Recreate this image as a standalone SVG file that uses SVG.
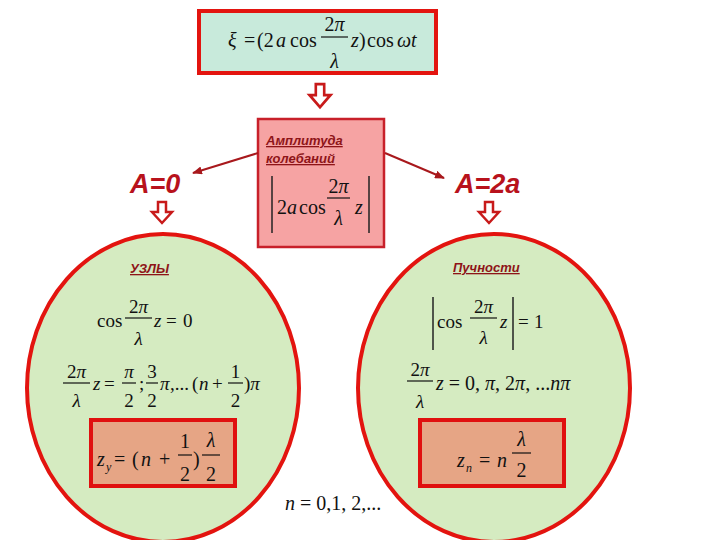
<svg xmlns="http://www.w3.org/2000/svg" width="720" height="540" viewBox="0 0 720 540">
<style>
.m{font-family:"Liberation Serif","Times New Roman",serif;font-size:20px;fill:#111}
.s{font-size:19px}
.sub{font-size:12px}
.i{font-style:italic}
.c{text-anchor:middle}
.bar{stroke:#111;stroke-width:1.2}
.abs{stroke:#222;stroke-width:1.5}
.lbl{font-family:"Liberation Sans",Arial,sans-serif;font-style:italic;font-weight:bold;font-size:13px;fill:#8e1418;text-decoration:underline}
.big{font-family:"Liberation Sans",Arial,sans-serif;font-style:italic;font-weight:bold;font-size:27px;fill:#b8121c}
.harrow{fill:#ffffff;stroke:#c81a1a;stroke-width:2.5;stroke-linejoin:miter}
.circ{fill:#d5ebc1;stroke:#e3140f;stroke-width:4}
.res{fill:#e6a585;stroke:#e0100f;stroke-width:4}
.conn{stroke:#a8181c;stroke-width:2;fill:none}
</style>
<defs>
<marker id="ah" markerWidth="10" markerHeight="8" refX="9" refY="4" orient="auto" markerUnits="userSpaceOnUse">
<path d="M0,0 L10,4 L0,8 Z" fill="#a8181c"/>
</marker>
<path id="dn" d="M-4,0 L4,0 L4,10 L10,10 L0,21 L-10,10 L-4,10 Z"/>
</defs>

<g id="node-nodes-circle">
<ellipse class="circ" cx="163" cy="388" rx="136" ry="154"/>
</g>
<g id="node-antinodes-circle">
<ellipse class="circ" cx="494" cy="388" rx="136" ry="154"/>
</g>

<g id="node-top">
<rect x="199" y="11" width="237" height="62" fill="#c8eadb" stroke="#e3140f" stroke-width="4"/>
<text class="m i" x="228" y="47">ξ</text>
<text class="m" x="244" y="47">=</text>
<text class="m" x="257" y="47">(2</text>
<text class="m i" x="276" y="47">a</text>
<text class="m" x="290" y="47">cos</text>
<line class="bar" x1="321" y1="37" x2="348" y2="37"/>
<text class="m c" x="334.5" y="31">2<tspan class="i">π</tspan></text>
<text class="m c i" x="334.5" y="68">λ</text>
<text class="m i" x="351" y="47">z</text>
<text class="m" x="359" y="47">)</text>
<text class="m" x="367" y="47">cos</text>
<text class="m i" x="397" y="47">ωt</text>
</g>

<g id="node-top-arrow">
<use href="#dn" class="harrow" transform="translate(320,84) scale(1.05,1.1)"/>
</g>

<g id="node-amplitude">
<rect x="258" y="119" width="126" height="128" fill="#f6a3a3" stroke="#c8202a" stroke-width="2.5"/>
<text class="lbl" x="266" y="145">Амплитуда</text>
<text class="lbl" x="266" y="163">колебаний</text>
<line class="abs" x1="272" y1="176" x2="272" y2="233"/>
<text class="m" x="277" y="214">2</text>
<text class="m i" x="287" y="214">a</text>
<text class="m" x="299" y="214">cos</text>
<line class="bar" x1="327" y1="198" x2="350" y2="198"/>
<text class="m c" x="338.5" y="193">2<tspan class="i">π</tspan></text>
<text class="m c i" x="338.5" y="225">λ</text>
<text class="m i" x="355" y="214">z</text>
<line class="abs" x1="369" y1="176" x2="369" y2="233"/>
</g>

<g id="connectors">
<line class="conn" x1="258" y1="153" x2="193" y2="173" marker-end="url(#ah)"/>
<line class="conn" x1="385" y1="153" x2="444" y2="178" marker-end="url(#ah)"/>
</g>

<g id="node-a0">
<text class="big" x="130" y="193">A=0</text>
<use href="#dn" class="harrow" transform="translate(162,202)"/>
</g>
<g id="node-a2a">
<text class="big" x="455" y="193">A=2a</text>
<use href="#dn" class="harrow" transform="translate(489,202)"/>
</g>

<g id="node-nodes-content">
<text class="lbl" x="130" y="273">УЗЛЫ</text>
<text class="m s" x="97" y="327">cos</text>
<line class="bar" x1="125" y1="318" x2="152" y2="318"/>
<text class="m s c" x="138.5" y="313">2<tspan class="i">π</tspan></text>
<text class="m s c i" x="138.5" y="345">λ</text>
<text class="m s i" x="154" y="327">z</text>
<text class="m s" x="166" y="327">=</text>
<text class="m s" x="183" y="327">0</text>

<line class="bar" x1="63" y1="383" x2="90" y2="383"/>
<text class="m s c" x="76.5" y="378">2<tspan class="i">π</tspan></text>
<text class="m s c i" x="76.5" y="407">λ</text>
<text class="m s i" x="93" y="390">z</text>
<text class="m s" x="104" y="390">=</text>
<line class="bar" x1="122" y1="383" x2="136" y2="383"/>
<text class="m s c i" x="129" y="378">π</text>
<text class="m s c" x="129" y="407">2</text>
<text class="m s" x="139" y="390">;</text>
<line class="bar" x1="146" y1="383" x2="158" y2="383"/>
<text class="m s c" x="152" y="378">3</text>
<text class="m s c" x="152" y="407">2</text>
<text class="m s i" x="160" y="390">π</text>
<text class="m s" x="170" y="390">,...</text>
<text class="m s" x="192" y="390">(</text>
<text class="m s i" x="199" y="390">n</text>
<text class="m s" x="212" y="390">+</text>
<line class="bar" x1="228" y1="383" x2="243" y2="383"/>
<text class="m s c" x="235.5" y="378">1</text>
<text class="m s c" x="235.5" y="407">2</text>
<text class="m s" x="244" y="390">)<tspan class="i">π</tspan></text>
</g>

<g id="node-nodes-result">
<rect class="res" x="91" y="420" width="144" height="66"/>
<text class="m i" x="97" y="466">z</text>
<text class="m i sub" x="106" y="471">y</text>
<text class="m" x="114" y="466">=</text>
<text class="m" x="132" y="466">(</text>
<text class="m i" x="141" y="466">n</text>
<text class="m" x="159" y="466">+</text>
<line class="bar" x1="178" y1="455" x2="192" y2="455"/>
<text class="m c" x="185" y="448">1</text>
<text class="m c" x="185" y="481">2</text>
<text class="m" x="193" y="466">)</text>
<line class="bar" x1="202" y1="455" x2="220" y2="455"/>
<text class="m c i" x="211" y="447">λ</text>
<text class="m c" x="211" y="481">2</text>
</g>

<g id="node-antinodes-content">
<text class="lbl" x="453" y="272">Пучности</text>
<line class="abs" x1="433" y1="297" x2="433" y2="350"/>
<text class="m s" x="437" y="328">cos</text>
<line class="bar" x1="470" y1="318" x2="497" y2="318"/>
<text class="m s c" x="483.5" y="313">2<tspan class="i">π</tspan></text>
<text class="m s c i" x="483.5" y="344">λ</text>
<text class="m s i" x="500" y="328">z</text>
<line class="abs" x1="513" y1="297" x2="513" y2="350"/>
<text class="m s" x="518" y="328">=</text>
<text class="m s" x="534" y="328">1</text>

<line class="bar" x1="407" y1="381" x2="433" y2="381"/>
<text class="m s c" x="420" y="376">2<tspan class="i">π</tspan></text>
<text class="m s c i" x="420" y="408">λ</text>
<text class="m" x="436" y="390"><tspan class="i">z</tspan> = 0, <tspan class="i">π</tspan>, 2<tspan class="i">π</tspan>, ...<tspan class="i">nπ</tspan></text>
</g>

<g id="node-antinodes-result">
<rect class="res" x="420" y="420" width="144" height="66"/>
<text class="m i" x="457" y="467">z</text>
<text class="m i sub" x="466" y="472">n</text>
<text class="m" x="479" y="467">=</text>
<text class="m i" x="497" y="467">n</text>
<line class="bar" x1="512" y1="453" x2="531" y2="453"/>
<text class="m c i" x="521.5" y="446">λ</text>
<text class="m c" x="521.5" y="477">2</text>
</g>

<g id="node-n-values">
<text class="m" x="285" y="510"><tspan class="i">n</tspan> = 0,1, 2,...</text>
</g>
</svg>
